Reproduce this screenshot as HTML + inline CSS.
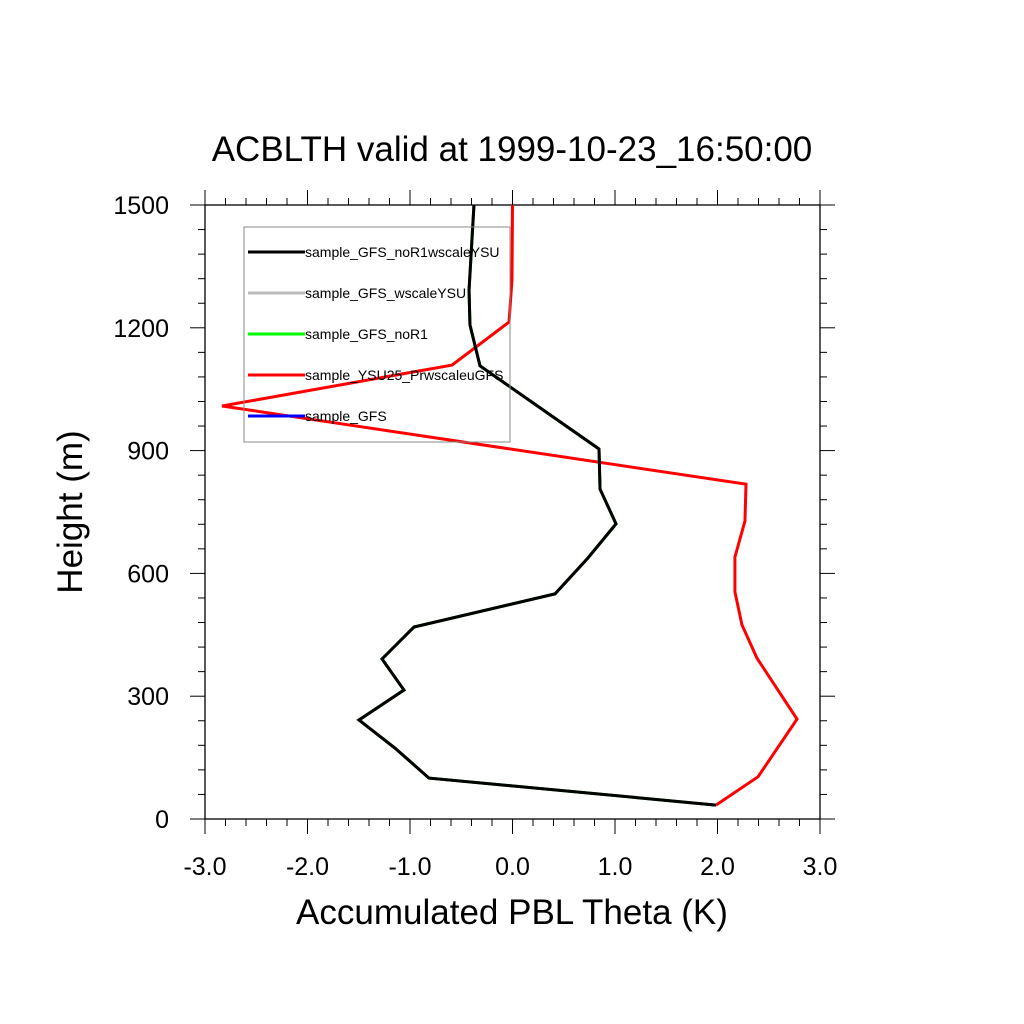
<!DOCTYPE html>
<html><head><meta charset="utf-8"><style>body{margin:0;background:#fff}svg{display:block}text{font-family:"Liberation Sans",sans-serif}</style></head>
<body>
<svg id="chart" width="1024" height="1024">
<text x="512" y="161" font-size="35" text-anchor="middle">ACBLTH valid at 1999-10-23_16:50:00</text>
<g id="axes"></g>
<g id="series"></g>
<g id="legend"></g>
<text x="512" y="924" font-size="35" text-anchor="middle">Accumulated PBL Theta (K)</text>
<text transform="translate(82,512) rotate(-90)" font-size="35" text-anchor="middle">Height (m)</text>
</svg>
<script>
const xTicks=[-3,-2,-1,0,1,2,3];
const xTickLabels=["-3.0","-2.0","-1.0","0.0","1.0","2.0","3.0"];
const yTicks=[0,300,600,900,1200,1500];
const yTickLabels=["0","300","600","900","1200","1500"];
const seriesNames=["sample_GFS_noR1wscaleYSU","sample_GFS_wscaleYSU","sample_GFS_noR1","sample_YSU25_PrwscaleuGFS","sample_GFS"];
const seriesColors=["#000","#bbb","#0f0","#f00","#00f"];
const blackX=[-0.376,-0.424,-0.415,-0.317,0.844,0.854,1.01,0.737,0.415,-0.961,-1.273,-1.059,-1.498,-1.146,-0.815,1.985];
const blackY=[1500,1292,1207,1107,904,806,721,638,550,469,391,315,242,173,100,34];
const redX=[1.985,2.395,2.776,2.385,2.239,2.17,2.17,2.268,2.278,-2.834,-0.59,-0.034,-0.005,0];
const redY=[34,103,244,393,474,555,640,728,818,1009,1109,1214,1317,1500];
const NS="http://www.w3.org/2000/svg";
const X0=205,X1=820,Y0=819,Y1=205;
const sx=v=>X0+(v+3)/6*(X1-X0);
const sy=v=>Y0-v/1500*(Y0-Y1);
function mk(tag,attrs,parent){const e=document.createElementNS(NS,tag);for(const k in attrs)e.setAttribute(k,attrs[k]);parent.appendChild(e);return e;}
const axes=document.getElementById('axes');
const frame=mk('rect',{x:X0,y:Y1,width:X1-X0,height:Y0-Y1,fill:'none',stroke:'#000','stroke-width':1.3},axes);


for(let i=0;i<=30;i++){const v=-3+i*0.2;const x=sx(v);const major=i%5===0;const L=major?15:7;
 const t1=mk('line',{x1:x,x2:x,y1:Y0,y2:Y0+L,stroke:'#000','stroke-width':1},axes);
 
 
 const t2=mk('line',{x1:x,x2:x,y1:Y1,y2:Y1-L,stroke:'#000','stroke-width':1},axes);
 
 }
for(let i=0;i<=25;i++){const v=i*60;const y=sy(v);const major=i%5===0;const L=major?15:7;
 const t1=mk('line',{x1:X0,x2:X0-L,y1:y,y2:y,stroke:'#000','stroke-width':1},axes);
 
 
 const t2=mk('line',{x1:X1,x2:X1+L,y1:y,y2:y,stroke:'#000','stroke-width':1},axes);
 
 }
xTicks.forEach((v,i)=>{const t=mk('text',{x:sx(v),y:875,'font-size':25,'text-anchor':'middle'},axes);t.textContent=xTickLabels[i];
 
 });
yTicks.forEach((v,i)=>{const t=mk('text',{x:169,y:sy(v)+9,'font-size':25,'text-anchor':'end'},axes);t.textContent=yTickLabels[i];
 
 });
const series=document.getElementById('series');
function drawLine(xs,ys,color,name){const pts=xs.map((v,i)=>sx(v)+','+sy(ys[i])).join(' ');
 const p=mk('polyline',{points:pts,fill:'none',stroke:color,'stroke-width':3,'stroke-linejoin':'miter'},series);
 
 }
drawLine(redX,redY,'#f00','series-ysu25-prwscaleugfs');
drawLine(blackX,blackY,'#0a0','series-gfs-nor1');
drawLine(blackX,blackY,'#000','series-gfs-nor1wscaleysu');
const lg=document.getElementById('legend');
const box=mk('rect',{x:244,y:227,width:266,height:215,fill:'none',stroke:'#888','stroke-width':1},lg);


seriesNames.forEach((n,i)=>{const y=252+i*41;
 const l=mk('line',{x1:248,x2:305,y1:y,y2:y,stroke:seriesColors[i],'stroke-width':3},lg);
 
 
 const t=mk('text',{x:305,y:y+5,'font-size':14},lg);t.textContent=n;
 
 });
</script>
</body></html>
